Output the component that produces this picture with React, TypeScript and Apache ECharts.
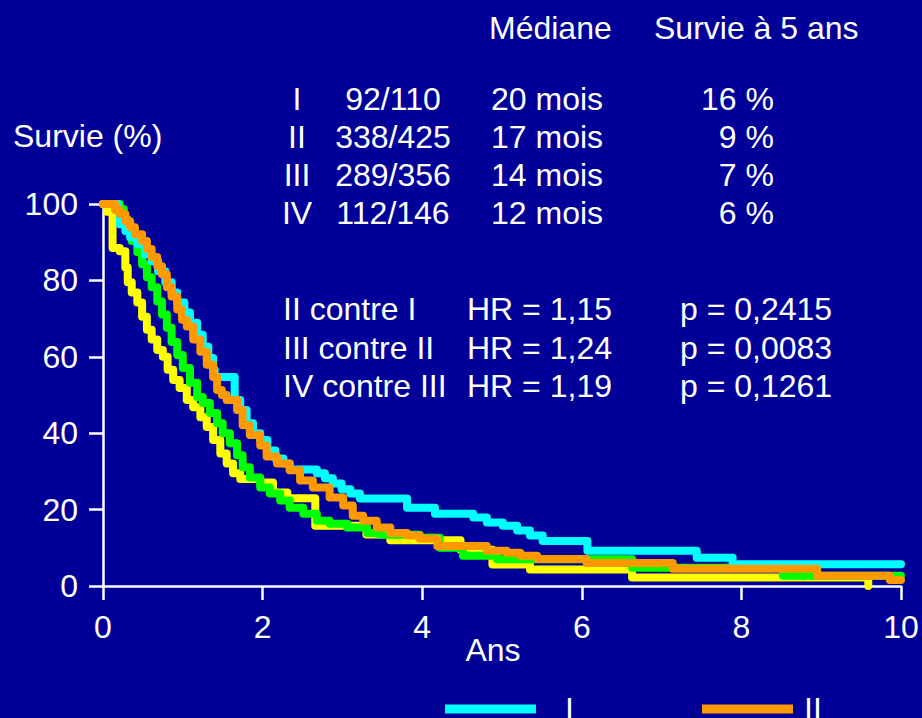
import React, { useEffect, useRef } from "react";
import * as echarts from "echarts";

// Kaplan-Meier survival (%) by stage: [years, survival %] after each drop
const stageI: number[][] = [
  [0, 100], [0.18, 98.2], [0.21, 94.7], [0.28, 92.9], [0.34, 91.3], [0.43, 89.5], [0.53, 86.8],
  [0.61, 85], [0.69, 82.4], [0.78, 79.5], [0.86, 76.8], [0.93, 74.2], [1.02, 71.6], [1.09, 68.9],
  [1.18, 65.8], [1.25, 62.6], [1.32, 59.7], [1.38, 56.6], [1.4, 54.7], [1.65, 48.7], [1.72, 46.1],
  [1.8, 42.6], [1.88, 40], [1.97, 38.2], [2.06, 35.5], [2.16, 33.4], [2.26, 32.1], [2.34, 30.5],
  [2.68, 29.5], [2.78, 28.2], [2.88, 26.8], [2.99, 25.3], [3.1, 24.2], [3.22, 22.9], [3.81, 20.5],
  [4.16, 18.9], [4.64, 17.9], [4.81, 16.6], [5.01, 15.8], [5.19, 14.5], [5.35, 13.2], [5.51, 11.8],
  [6.07, 9.2], [7.44, 7.4], [7.89, 5.7], [10, 5.7],
];
const stageII: number[][] = [
  [0, 100], [0.15, 98.5], [0.21, 97.4], [0.28, 95.5], [0.34, 93.9], [0.4, 92.1], [0.49, 90.3],
  [0.55, 88.2], [0.61, 86.1], [0.68, 83.7], [0.74, 81.6], [0.8, 78.2], [0.86, 75.8], [0.93, 72.4],
  [0.99, 69.7], [1.05, 67.9], [1.13, 64.5], [1.22, 61.3], [1.3, 57.9], [1.38, 54.7], [1.43, 51.3],
  [1.49, 50], [1.55, 48.7], [1.68, 46.1], [1.75, 42.1], [1.84, 39.5], [1.97, 36.8], [2.05, 33.9],
  [2.18, 32.1], [2.34, 30.3], [2.47, 27.6], [2.63, 25.8], [2.84, 23.2], [3.01, 21.1], [3.13, 18.4],
  [3.26, 17.1], [3.43, 15.3], [3.6, 13.9], [3.81, 13.2], [3.97, 12.4], [4.19, 10.5], [4.81, 9.2],
  [5.06, 8.7], [5.23, 7.9], [5.44, 7.1], [6.06, 6.0], [7.14, 4.5], [8.95, 2.7], [9.86, 1.6], [10, 1.6],
];
const stageIII: number[][] = [
  [0, 100], [0.21, 98.7], [0.26, 96], [0.31, 92.9], [0.36, 90.3], [0.43, 87.4], [0.49, 84.2],
  [0.55, 80.8], [0.61, 78.2], [0.68, 74.5], [0.74, 71.1], [0.8, 67.6], [0.86, 63.9], [0.93, 60.5],
  [1.0, 57.1], [1.09, 53.2], [1.18, 49.5], [1.25, 47.9], [1.34, 45.3], [1.43, 42.6], [1.5, 40],
  [1.59, 37.4], [1.68, 34.2], [1.75, 31.1], [1.84, 28.4], [1.97, 25.8], [2.09, 24.2], [2.22, 22.4],
  [2.34, 20.5], [2.51, 18.9], [2.68, 17.1], [2.84, 16.3], [3.06, 15.3], [3.31, 13.9], [3.47, 13.4],
  [3.97, 12.6], [4.22, 10], [4.51, 7.9], [4.94, 7.0], [6.63, 4.8], [8.52, 2.7], [10, 2.7],
];
const stageIV: number[][] = [
  [0, 100], [0.05, 98], [0.12, 88.5], [0.21, 87.6], [0.28, 83.4], [0.31, 79.5], [0.36, 76.8],
  [0.43, 74.2], [0.49, 70.5], [0.55, 67.1], [0.61, 64.5], [0.68, 61.8], [0.75, 60], [0.81, 56.6],
  [0.88, 53.9], [0.96, 51.8], [1.05, 48.7], [1.13, 46.8], [1.22, 44.2], [1.3, 41.6], [1.38, 38.2],
  [1.47, 34.7], [1.55, 32.1], [1.63, 29.5], [1.72, 28.0], [1.97, 27.1], [2.13, 24.5], [2.31, 23],
  [2.66, 15.8], [3.3, 13.5], [3.6, 12.0], [4.48, 9.5], [4.88, 5.6], [5.35, 4.3], [6.63, 2.2],
  [9.59, 0],
];

const stageNames = ["I", "II", "III", "IV"];
const stageColors = ["#00ffff", "#ff9900", "#00ff00", "#ffff00"];
const deaths = ["92/110", "338/425", "289/356", "112/146"];
const medians = ["20 mois", "17 mois", "14 mois", "12 mois"];
const fiveYear = ["16 %", "9 %", "7 %", "6 %"];
const comparisons = ["II contre I", "III contre II", "IV contre III"];
const hazardRatios = ["HR = 1,15", "HR = 1,24", "HR = 1,19"];
const pValues = ["p = 0,2415", "p = 0,0083", "p = 0,1261"];

const FONT = "'Liberation Sans', Arial, Helvetica, sans-serif";
const FS = 32;

function txt(text: string, x: number, y: number, align: string = "left") {
  return {
    type: "text",
    x,
    y,
    silent: true,
    style: {
      text,
      fill: "#ffffff",
      fontSize: FS,
      fontFamily: FONT,
      align,
      verticalAlign: "middle",
      textAlign: align,
      textVerticalAlign: "middle",
    },
  };
}

function legendFor(name: string, left: number, padLeft: number) {
  return {
    data: [name],
    left,
    top: 688,
    icon: "rect",
    itemWidth: 91,
    itemHeight: 9,
    selectedMode: false,
    textStyle: { color: "#ffffff", fontSize: FS, fontFamily: FONT, padding: [0, 0, 0, padLeft] },
  };
}

export default function App() {
  const ref = useRef<HTMLDivElement>(null);
  useEffect(() => {
    if (!ref.current) return;
    const chart = echarts.init(ref.current, null, { renderer: "svg" });
    const rowsY = [99, 137, 175, 213];
    const cmpY = [309, 348, 386];
    const graphics: any[] = [
      txt("Médiane", 489, 28),
      txt("Survie à 5 ans", 654, 28),
      txt("Survie (%)", 13, 136),
      txt("Ans", 493, 650, "center"),
    ];
    stageNames.forEach((n, i) => {
      graphics.push(txt(n, 297, rowsY[i], "center"));
      graphics.push(txt(deaths[i], 393, rowsY[i], "center"));
      graphics.push(txt(medians[i], 491, rowsY[i]));
      graphics.push(txt(fiveYear[i], 774, rowsY[i], "right"));
    });
    comparisons.forEach((c, i) => {
      graphics.push(txt(c, 283, cmpY[i]));
      graphics.push(txt(hazardRatios[i], 467, cmpY[i]));
      graphics.push(txt(pValues[i], 680, cmpY[i]));
    });

    const datasets = [stageIV, stageIII, stageI, stageII];
    const order = [3, 2, 0, 1];
    const series = order.map((idx, k) => ({
      name: stageNames[idx],
      type: "line",
      step: "end",
      data: datasets[k],
      showSymbol: false,
      symbol: "none",
      clip: false,
      color: stageColors[idx],
      lineStyle: { width: 8, color: stageColors[idx], cap: "round", join: "round" },
      itemStyle: { color: stageColors[idx] },
    }));

    chart.setOption({
      animation: false,
      backgroundColor: "#000099",
      grid: { left: 103, right: 21, top: 204, bottom: 132, containLabel: false },
      xAxis: {
        type: "value",
        min: 0,
        max: 10,
        interval: 2,
        axisLine: { show: true, lineStyle: { color: "#ffffff", width: 2.5 } },
        axisTick: { show: true, length: 14, lineStyle: { color: "#ffffff", width: 2.5 } },
        axisLabel: { color: "#ffffff", fontSize: FS, fontFamily: FONT, margin: 25 },
        splitLine: { show: false },
      },
      yAxis: {
        type: "value",
        min: 0,
        max: 100,
        interval: 20,
        axisLine: { show: true, lineStyle: { color: "#ffffff", width: 2.5 } },
        axisTick: { show: true, length: 14, lineStyle: { color: "#ffffff", width: 2.5 } },
        axisLabel: { color: "#ffffff", fontSize: FS, fontFamily: FONT, margin: 25 },
        splitLine: { show: false },
      },
      legend: [legendFor("I", 440, 24), legendFor("II", 697, 6)],
      graphic: graphics,
      series,
    });
    return () => chart.dispose();
  }, []);
  return (
    <div
      ref={ref}
      style={{ position: "fixed", left: 0, top: 0, width: 922, height: 718 }}
    />
  );
}
